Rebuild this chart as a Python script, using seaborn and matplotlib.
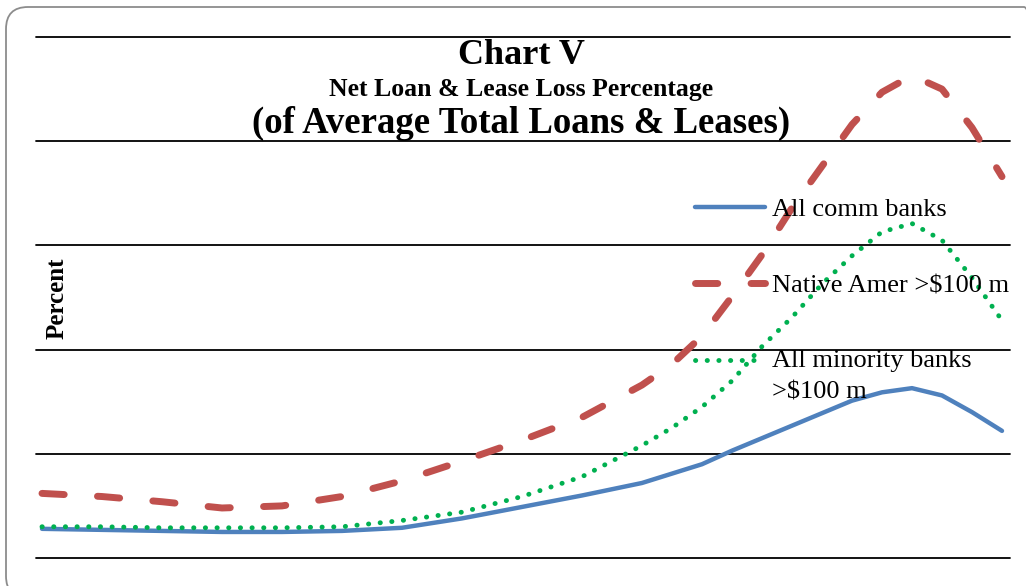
import matplotlib
matplotlib.use("Agg")
import matplotlib.pyplot as plt
import pandas as pd
import seaborn as sns
from matplotlib.legend_handler import HandlerLine2D
from matplotlib.patches import FancyBboxPatch
from matplotlib.transforms import IdentityTransform

# Net charge-offs as a percentage of average total loans & leases, by period
period = [0, 1, 2, 3, 4, 5, 6, 7, 8, 9,
          10, 10.5, 11, 11.5, 12, 12.5, 13, 13.5, 14, 14.5, 15, 15.5, 16]
all_comm = [0.28, 0.27, 0.26, 0.25, 0.25, 0.26, 0.29, 0.38, 0.49, 0.60,
            0.72, 0.81, 0.90, 1.03, 1.15, 1.27, 1.39, 1.51, 1.59, 1.63,
            1.56, 1.40, 1.22]
native_amer = [0.62, 0.59, 0.54, 0.48, 0.50, 0.59, 0.74, 0.93, 1.13, 1.35,
               1.66, 1.86, 2.13, 2.51, 2.91, 3.36, 3.76, 4.16, 4.47, 4.63,
               4.50, 4.13, 3.66]
all_minority = [0.30, 0.30, 0.29, 0.29, 0.29, 0.30, 0.36, 0.44, 0.59, 0.78,
                1.08, 1.25, 1.45, 1.70, 2.03, 2.31, 2.63, 2.90, 3.13, 3.21,
                3.05, 2.69, 2.28]

labels = ["All comm banks", "Native Amer >$100 m", "All minority banks\n>$100 m"]
colors = ["#4F81BD", "#C0504D", "#00B050"]

sns.set_theme(style="white")
plt.rcParams["font.family"] = ["Liberation Serif", "DejaVu Serif"]
plt.rcParams["text.color"] = "black"

W, H = 1026, 586
fig = plt.figure(figsize=(W / 100, H / 100), dpi=100)
ax = fig.add_axes([36 / W, 1 - 558 / H, (1010 - 36) / W, (558 - 37) / H])

df = pd.DataFrame({"period": period, "comm": all_comm,
                   "native": native_amer, "minority": all_minority})

sns.lineplot(data=df, x="period", y="comm", ax=ax, color=colors[0], lw=3.2,
             solid_capstyle="round", solid_joinstyle="round",
             label=labels[0], errorbar=None)
sns.lineplot(data=df, x="period", y="native", ax=ax, color=colors[1], lw=5.0,
             linestyle=(0, (3.2, 4.8)), dash_capstyle="round",
             dash_joinstyle="round", label=labels[1], errorbar=None)
sns.lineplot(data=df, x="period", y="minority", ax=ax, color=colors[2], lw=3.5,
             linestyle=(0, (0.05, 2.35)), dash_capstyle="round",
             label=labels[2], errorbar=None)

ax.set_xlim(-0.1, (1010 - 42) / 60)
ax.set_ylim(0, 5)
ax.set_yticks(range(6))
ax.set_xticks([])
ax.yaxis.grid(True, color="black", lw=1.3)
for gl in ax.get_ygridlines():
    gl.set_clip_on(False)
ax.xaxis.grid(False)
ax.tick_params(length=0, labelleft=False, labelbottom=False)
for sp in ax.spines.values():
    sp.set_visible(False)
ax.set_xlabel("")
ax.set_ylabel("")


class LiftedLineHandler(HandlerLine2D):
    """Puts the legend sample level with the first line of a two-line label."""

    def __init__(self, lift, **kw):
        super().__init__(**kw)
        self.lift = lift

    def create_artists(self, legend, orig_handle, xdescent, ydescent, width,
                       height, fontsize, trans):
        arts = super().create_artists(legend, orig_handle, xdescent, ydescent,
                                      width, height, fontsize, trans)
        for a in arts:
            a.set_ydata([y + self.lift for y in a.get_ydata()])
        return arts


handles, labs = ax.get_legend_handles_labels()
leg = ax.legend(handles, labs, loc="upper left",
                bbox_to_anchor=(695 / W, 1 - 198 / H),
                bbox_transform=fig.transFigure, frameon=False,
                fontsize=19, handlelength=2.65, handletextpad=0.27,
                labelspacing=2.0, borderpad=0, borderaxespad=0,
                handler_map={handles[2]: LiftedLineHandler(11.5)})
for t in leg.get_texts():
    t.set_linespacing(1.52)
    t.set_color("black")

# titles
fig.text(521 / W, 1 - 64 / H, "Chart V", ha="center", va="baseline",
         fontsize=26, fontweight="bold")
fig.text(521 / W, 1 - 96 / H, "Net Loan & Lease Loss Percentage",
         ha="center", va="baseline", fontsize=18.5, fontweight="bold")
fig.text(521 / W, 1 - 133 / H, "(of Average Total Loans & Leases)",
         ha="center", va="baseline", fontsize=26.5, fontweight="bold")
fig.text(57 / W, 1 - 298 / H, "Percent", ha="center", va="center",
         rotation=90, fontsize=18, fontweight="bold")

# rounded frame around the chart area
frame = FancyBboxPatch((6, -12), 1040, H - 7 + 12,
                       boxstyle="round,pad=0,rounding_size=22",
                       transform=IdentityTransform(), fill=False,
                       edgecolor="#8c8c8c", lw=1.3)
fig.patches.append(frame)

fig.savefig("out.png", dpi=100)
